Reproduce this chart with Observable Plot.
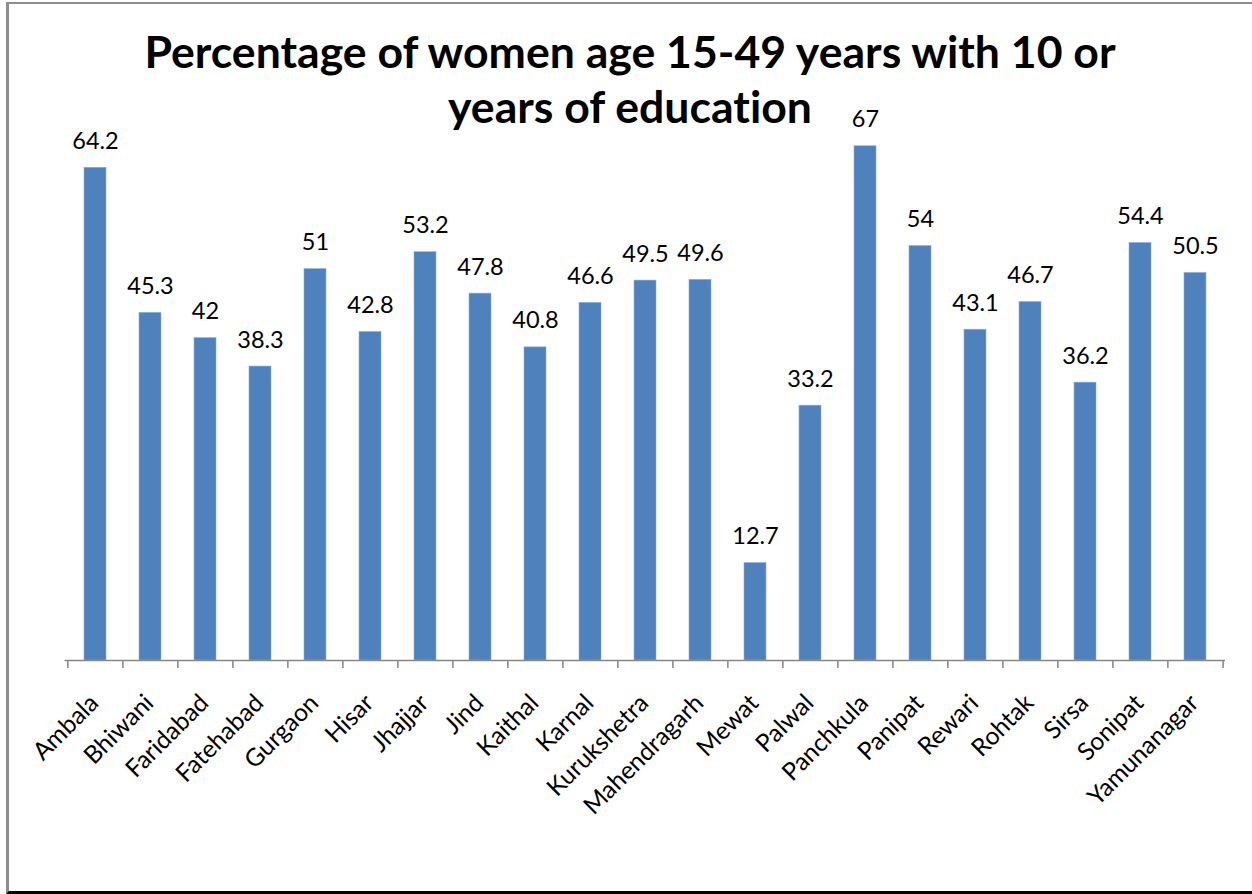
<!DOCTYPE html>
<html>
<head>
<meta charset="utf-8">
<script src="https://cdn.jsdelivr.net/npm/d3@7"></script>
<script src="https://cdn.jsdelivr.net/npm/@observablehq/plot@0.6"></script>
<style>
  html, body { margin: 0; padding: 0; background: #fff; overflow: hidden; }
  #wrap { position: relative; width: 1252px; height: 894px; overflow: hidden; }
  #frame { position: absolute; left: 6px; top: 2px; width: 1300px; height: 892px; box-sizing: border-box;
           border-left: 3px solid #8e8e8e; border-top: 2px solid #8e8e8e; border-bottom: 3px solid #000; }
  #chart { position: absolute; left: 0; top: 0; }
  #titlesvg { position: absolute; left: 0; top: 0; }
  svg text { font-variant-ligatures: none; font-feature-settings: "liga" 0, "clig" 0; }
</style>
</head>
<body>
<div id="wrap">
  <div id="frame"></div>
  <div id="chart"></div>
  <svg id="titlesvg" width="1252" height="140"></svg>
</div>
<script>
const titleLines = ["Percentage of women age 15-49 years with 10 or", "years of education"];
const districts = ["Ambala","Bhiwani","Faridabad","Fatehabad","Gurgaon","Hisar","Jhajjar","Jind","Kaithal","Karnal","Kurukshetra","Mahendragarh","Mewat","Palwal","Panchkula","Panipat","Rewari","Rohtak","Sirsa","Sonipat","Yamunanagar"];
const values = [64.2,45.3,42,38.3,51,42.8,53.2,47.8,40.8,46.6,49.5,49.6,12.7,33.2,67,54,43.1,46.7,36.2,54.4,50.5];

const data = districts.map((d, i) => ({district: d, value: values[i]}));

const FONT = "Lato";
const ctx = document.createElement("canvas").getContext("2d");
function fit(texts, targets, weight) {
  let s = 0;
  texts.forEach((t, i) => {
    ctx.font = `${weight} 100px ${FONT}`;
    s += 100 * targets[i] / ctx.measureText(t).width;
  });
  return s / texts.length;
}
const titleSize = fit(titleLines, [964, 370], "bold");
const valueSize = fit(["64.2", "54.4"], [47, 46], "normal");
const catSize = fit(["Ambala", "Mahendragarh"], [80, 159], "normal");

// Title
const tsvg = d3.select("#titlesvg");
tsvg.selectAll("text").data(titleLines).join("text")
  .attr("x", 630)
  .attr("y", (d, i) => i === 0 ? 68 : 123)
  .attr("text-anchor", "middle")
  .attr("font-family", FONT)
  .attr("font-weight", "bold")
  .attr("font-size", titleSize)
  .attr("fill", "#000")
  .text(d => d);

const W = 1252, H = 894;
const mL = 64.5, mR = 27, mT = 46, mB = 234;
const step = (W - mL - mR) / districts.length;

const chart = Plot.plot({
  width: W,
  height: H,
  marginLeft: mL,
  marginRight: mR,
  marginTop: mT,
  marginBottom: mB,
  style: {fontFamily: FONT, background: "transparent"},
  x: {domain: districts, paddingInner: 0.6, paddingOuter: 0.3, axis: null},
  y: {domain: [0, 80], axis: null},
  marks: [
    Plot.barY(data, {x: "district", y: "value", fill: "#4F81BD", stroke: "#8FB0DA", strokeWidth: 0.6}),
    Plot.ruleY([0], {stroke: "#868686", strokeWidth: 1.5}),
    Plot.ruleX(districts, {x: d => d, y1: 0, y2: -1.05, dx: -step / 2, stroke: "#868686", strokeWidth: 1.5}),
    Plot.ruleX(districts.slice(-1), {x: d => d, y1: 0, y2: -1.05, dx: step / 2, stroke: "#868686", strokeWidth: 1.5}),
    Plot.text(data, {x: "district", y: "value", text: d => String(d.value), lineAnchor: "bottom", dy: -19, fontSize: valueSize, fill: "#000"}),
    Plot.text(data, {x: "district", y: 0, text: "district", rotate: -45, textAnchor: "end", lineAnchor: "bottom", dx: 4.5, dy: 44, fontSize: catSize, fill: "#000"})
  ]
});
document.getElementById("chart").appendChild(chart);
</script>
</body>
</html>
